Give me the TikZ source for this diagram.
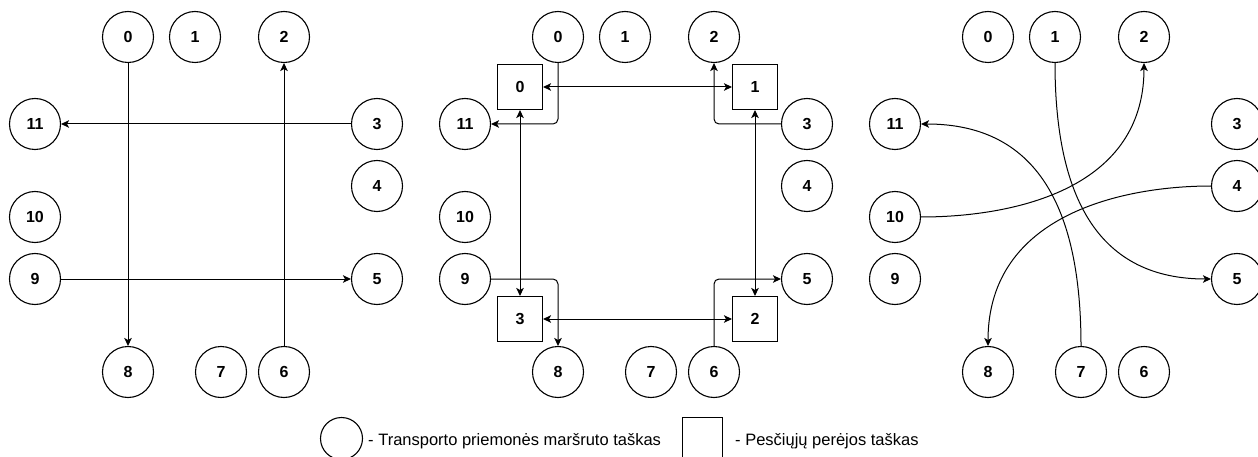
\documentclass[tikz,border=0pt]{standalone}
\usepackage{fontspec}
\setmainfont{Liberation Sans}
\usetikzlibrary{arrows.meta}
\tikzset{
  pt/.style={circle, draw, line width=1.1pt, minimum size=51pt, inner sep=0pt,
    font=\fontsize{16}{19}\selectfont\bfseries},
  xing/.style={rectangle, draw, line width=1.1pt, minimum size=45pt, inner sep=0pt,
    font=\fontsize{16}{19}\selectfont\bfseries},
  conn/.style={line width=1pt, -{Stealth[length=8pt,width=7.5pt,inset=2pt]}},
  conn2/.style={line width=1pt, {Stealth[length=8pt,width=7.5pt,inset=2pt]}-{Stealth[length=8pt,width=7.5pt,inset=2pt]}},
  rc/.style={rounded corners=5pt},
  legtext/.style={anchor=base west, inner sep=0pt, font=\fontsize{16.5}{19}\selectfont}
}
\begin{document}
\begin{tikzpicture}[x=1pt,y=-1pt]
\useasboundingbox (0,0) rectangle (1258,457);
\clip (0,0) rectangle (1258,457);
\foreach \p/\dx in {L/0, M/430, R/860}{
  \node[pt] (\p0) at (128+\dx,37) {0};
  \node[pt] (\p1) at (195+\dx,37) {1};
  \node[pt] (\p2) at (284+\dx,37) {2};
  \node[pt] (\p3) at (377+\dx,124) {3};
  \node[pt] (\p4) at (377+\dx,186) {4};
  \node[pt] (\p5) at (377+\dx,279) {5};
  \node[pt] (\p6) at (284+\dx,372) {6};
  \node[pt] (\p7) at (221+\dx,372) {7};
  \node[pt] (\p8) at (128+\dx,372) {8};
  \node[pt] (\p9) at (35+\dx,279) {9};
  \node[pt] (\p10) at (35+\dx,217) {10};
  \node[pt] (\p11) at (35+\dx,124) {11};
}
% middle crossings
\node[xing] (S0) at (520,87) {0};
\node[xing] (S1) at (755,87) {1};
\node[xing] (S2) at (755,319) {2};
\node[xing] (S3) at (520,319) {3};

% left panel
\draw[conn] (L0) -- (L8);
\draw[conn] (L6) -- (L2);
\draw[conn] (L3) -- (L11);
\draw[conn] (L9) -- (L5);

% middle panel
\draw[conn,rc] (M0.south) |- (M11.east);
\draw[conn,rc] (M3.west) -| (M2.south);
\draw[conn,rc] (M9.east) -| (M8.north);
\draw[conn,rc] (M6.north) |- (M5.west);
\draw[conn2] (S0) -- (S1);
\draw[conn2] (S1) -- (S2);
\draw[conn2] (S0) -- (S3);
\draw[conn2] (S3) -- (S2);

% right panel
\draw[conn] (R1.south) .. controls +(0,137) and +(-111,0) .. (R5.west);
\draw[conn] (R10.east) .. controls +(85,0) and +(0,130) .. (R2.south);
\draw[conn] (R4.west) .. controls +(-85,0) and +(0,-133) .. (R8.north);
\draw[conn] (R7.north) .. controls +(0,-140) and +(115,0) .. (R11.east);

% legend
\node[circle, draw, line width=1.1pt, minimum size=42pt, inner sep=0pt] (legc) at (341.5,438.5) {};
\node[legtext] (legt1) at (368,445) {- Transporto priemonės maršruto taškas};
\node[rectangle, draw, line width=1.1pt, minimum size=40pt, inner sep=0pt] (legs) at (702.5,437.5) {};
\node[legtext] (legt2) at (735,445) {- Pesčiųjų perėjos taškas};
\end{tikzpicture}
\end{document}
